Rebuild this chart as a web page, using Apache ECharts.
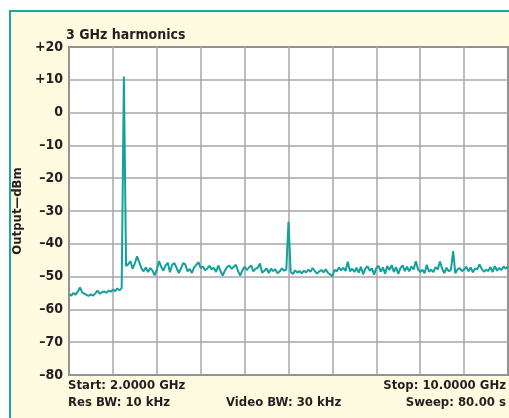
<!DOCTYPE html>
<html>
<head>
<meta charset="utf-8">
<script src="https://cdn.jsdelivr.net/npm/echarts@6/dist/echarts.min.js"></script>
<style>
  html, body { margin: 0; padding: 0; background: #ffffff; }
  #panel { position: absolute; left: 9px; top: 10px; width: 500px; height: 408px;
           background: #fffbe0; border-left: 2px solid #1aa7a2; border-top: 2px solid #1aa7a2; box-sizing: border-box; }
  #chart { position: absolute; left: 0; top: 0; width: 509px; height: 418px; }
</style>
</head>
<body>
<div id="panel"></div>
<div id="chart"></div>
<script>
// Sweep settings (GHz)
const startGHz = 2.0;
const stopGHz = 10.0;
const stepGHz = 0.04;
const yTicks = [20, 10, 0, -10, -20, -30, -40, -50, -60, -70, -80];
const titleText = '3 GHz harmonics';
const yAxisTitle = 'Output\u2014dBm';
const footerLeft = ['Start: 2.0000 GHz', 'Res BW: 10 kHz'];
const footerCenter = 'Video BW: 30 kHz';
const footerRight = ['Stop: 10.0000 GHz', 'Sweep: 80.00 s'];

const levelDbm = [
  -55.3, -55.8, -55.0, -55.5, -54.6, -53.3, -54.8, -55.2, -55.6, -55.9,
  -55.4, -55.8, -55.1, -54.3, -55.2, -54.8, -54.5, -54.9, -54.3, -54.6,
  -54.0, -54.4, -53.6, -54.2, -53.5, 11.0, -46.8, -46.2, -45.3, -47.6,
  -46.0, -43.8, -45.6, -47.5, -48.4, -47.2, -48.6, -47.4, -48.1, -49.6,
  -47.9, -45.3, -47.0, -48.2, -46.6, -45.8, -48.7, -46.4, -45.9, -47.3,
  -48.9, -47.6, -45.9, -46.3, -48.4, -47.7, -48.9, -47.2, -46.4, -45.6,
  -47.4, -46.9, -48.1, -47.5, -46.7, -47.8, -47.3, -48.6, -46.6, -48.3,
  -49.7, -48.2, -47.1, -46.6, -47.6, -47.1, -46.4, -48.3, -49.7, -48.1,
  -47.0, -48.0, -47.2, -46.6, -48.4, -47.6, -47.3, -46.0, -48.8, -48.2,
  -47.5, -48.9, -47.6, -48.3, -47.8, -49.0, -48.4, -47.5, -48.2, -47.8,
  -33.3, -48.6, -49.2, -48.1, -48.8, -48.3, -49.0, -48.2, -48.7, -47.9,
  -48.5, -47.4, -48.3, -49.1, -48.4, -48.0, -48.7, -47.8, -48.9, -49.3,
  -49.9, -47.9, -48.4, -47.2, -48.1, -47.3, -48.3, -45.5, -48.4, -47.6,
  -48.6, -47.3, -48.8, -47.0, -49.3, -47.6, -46.8, -48.2, -47.5, -49.4,
  -47.4, -46.7, -48.5, -47.2, -49.1, -46.8, -48.0, -46.5, -48.6, -47.1,
  -49.2, -47.4, -46.6, -48.3, -47.0, -48.4, -46.9, -47.8, -45.3, -47.7,
  -48.6, -47.9, -49.0, -46.4, -48.5, -47.9, -48.6, -47.1, -47.8, -45.4,
  -47.6, -48.9, -47.3, -48.4, -47.9, -42.2, -49.0, -47.8, -47.4, -48.3,
  -47.9, -47.0, -48.4, -47.2, -48.7, -47.5, -47.8, -46.3, -47.6, -48.5,
  -47.9, -48.3, -47.1, -48.6, -46.8, -48.2, -47.4, -48.0, -46.9, -47.6,
  -46.8
];

const traceData = levelDbm.map((v, i) => [+(startGHz + i * stepGHz).toFixed(3), v]);

const FONT = '"Liberation Sans Narrow", "DejaVu Sans Condensed", sans-serif';
const TXT = '#231f20';
const FS = 13;

const chart = echarts.init(document.getElementById('chart'), null, { renderer: 'canvas' });
chart.setOption({
  backgroundColor: 'transparent',
  animation: false,
  title: {
    text: titleText, left: 66, top: 28, padding: 0,
    textStyle: { fontFamily: FONT, fontWeight: 'bold', fontSize: 14, color: TXT }
  },
  grid: {
    left: 69, top: 47, right: 1, bottom: 43,
    show: true, backgroundColor: '#ffffff', borderColor: '#231f20', borderWidth: 1.5,
    containLabel: false
  },
  xAxis: [
    { // grid divisions (10 graticule columns)
      type: 'value', min: 0, max: 10, interval: 1,
      axisLine: { show: false }, axisTick: { show: false }, axisLabel: { show: false },
      splitLine: { show: true, lineStyle: { color: '#a7a7aa', width: 1.5 } }
    },
    { // frequency axis for the trace
      type: 'value', min: startGHz, max: stopGHz,
      show: false, splitLine: { show: false }
    }
  ],
  yAxis: {
    type: 'value', min: yTicks[yTicks.length - 1], max: yTicks[0], interval: 10,
    name: yAxisTitle, nameLocation: 'middle', nameGap: 32, nameRotate: 90,
    nameTextStyle: { fontFamily: FONT, fontWeight: 'bold', fontSize: FS, color: TXT },
    axisLine: { show: false }, axisTick: { show: false },
    axisLabel: {
      fontFamily: FONT, fontWeight: 'bold', fontSize: 14, color: TXT, margin: 6,
      formatter: v => v > 0 ? '+' + v : (v < 0 ? '\u2013' + Math.abs(v) : '0')
    },
    splitLine: { show: true, lineStyle: { color: '#a7a7aa', width: 1.5 } }
  },
  graphic: [
    { type: 'text', left: 68, top: 379, style: { text: footerLeft[0], font: 'bold ' + FS + 'px ' + FONT, fill: TXT } },
    { type: 'text', left: 68, top: 396, style: { text: footerLeft[1], font: 'bold ' + FS + 'px ' + FONT, fill: TXT } },
    { type: 'text', left: 226, top: 396, style: { text: footerCenter, font: 'bold ' + FS + 'px ' + FONT, fill: TXT } },
    { type: 'text', right: 3, top: 379, style: { text: footerRight[0], font: 'bold ' + FS + 'px ' + FONT, fill: TXT } },
    { type: 'text', right: 3, top: 396, style: { text: footerRight[1], font: 'bold ' + FS + 'px ' + FONT, fill: TXT } }
  ],
  series: [{
    type: 'line', xAxisIndex: 1, data: traceData, showSymbol: false,
    lineStyle: { color: '#12a19c', width: 2 }, z: 5
  }]
});
</script>
</body>
</html>
